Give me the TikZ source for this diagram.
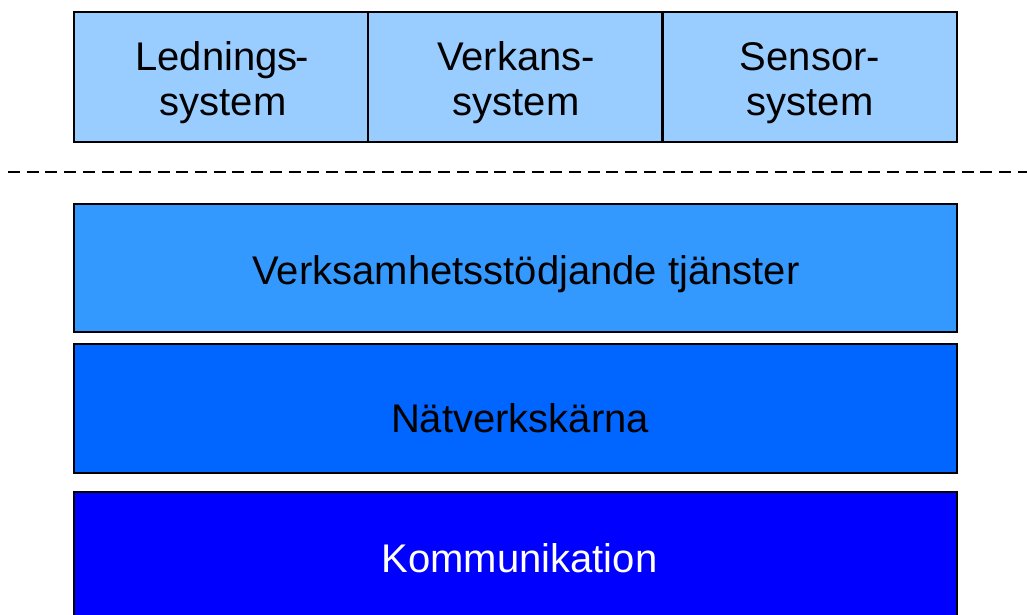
\documentclass[tikz,border=0pt]{standalone}
\usepackage{fontspec}
\setmainfont{Liberation Sans}
\definecolor{toplight}{HTML}{99CCFF}
\definecolor{midblue}{HTML}{3399FF}
\definecolor{corblue}{HTML}{0066FF}
\definecolor{comblue}{HTML}{0000FF}
\begin{document}
\begin{tikzpicture}[x=1pt,y=-1pt,
  boxstyle/.style={draw=black, line width=2pt, inner sep=0pt, outer sep=0pt},
  lbl/.style={font=\fontsize{40}{46}\selectfont, align=center, inner sep=0pt, anchor=base},
  sepline/.style={line width=2pt, dash pattern=on 12pt off 6.7pt}]
\useasboundingbox (0,0) rectangle (1027,615);
\clip (0,0) rectangle (1027,615);
% top row
\node[boxstyle, fill=toplight, minimum width=294pt, minimum height=130pt] (led) at (221,77) {};
\node[boxstyle, fill=toplight, minimum width=294pt, minimum height=130pt] (ver) at (515,77) {};
\node[boxstyle, fill=toplight, minimum width=294pt, minimum height=130pt] (sen) at (809.5,77) {};
\node[lbl] (ledt1) at (222,71) {Lednings\kern-2.5pt-};
\node[lbl] (ledt2) at (223,116) {system};
\node[lbl] (vert1) at (516,71) {Verkans-};
\node[lbl] (vert2) at (516,116) {system};
\node[lbl] (sent1) at (810,71) {Sensor-};
\node[lbl] (sent2) at (810,116) {system};
% dashed separator
\coordinate (dl) at (8,172);
\coordinate (dr) at (1027,172);
\draw[sepline] (dl) -- (dr);
% layers
\node[boxstyle, fill=midblue, minimum width=883pt, minimum height=128pt] (vst) at (515.5,268) {};
\node[boxstyle, fill=corblue, minimum width=883pt, minimum height=129pt] (nvk) at (515.5,408.5) {};
\node[boxstyle, fill=comblue, minimum width=883pt, minimum height=140pt] (kom) at (515.5,562) {};
\node[lbl] (vstt) at (526,284) {Verksamhetsstödjande tjänster};
\node[lbl] (nvkt) at (520,432) {Nätverkskärna};
\node[lbl, text=white] (komt) at (519.5,572) {Kommunikation};
\end{tikzpicture}
\end{document}
